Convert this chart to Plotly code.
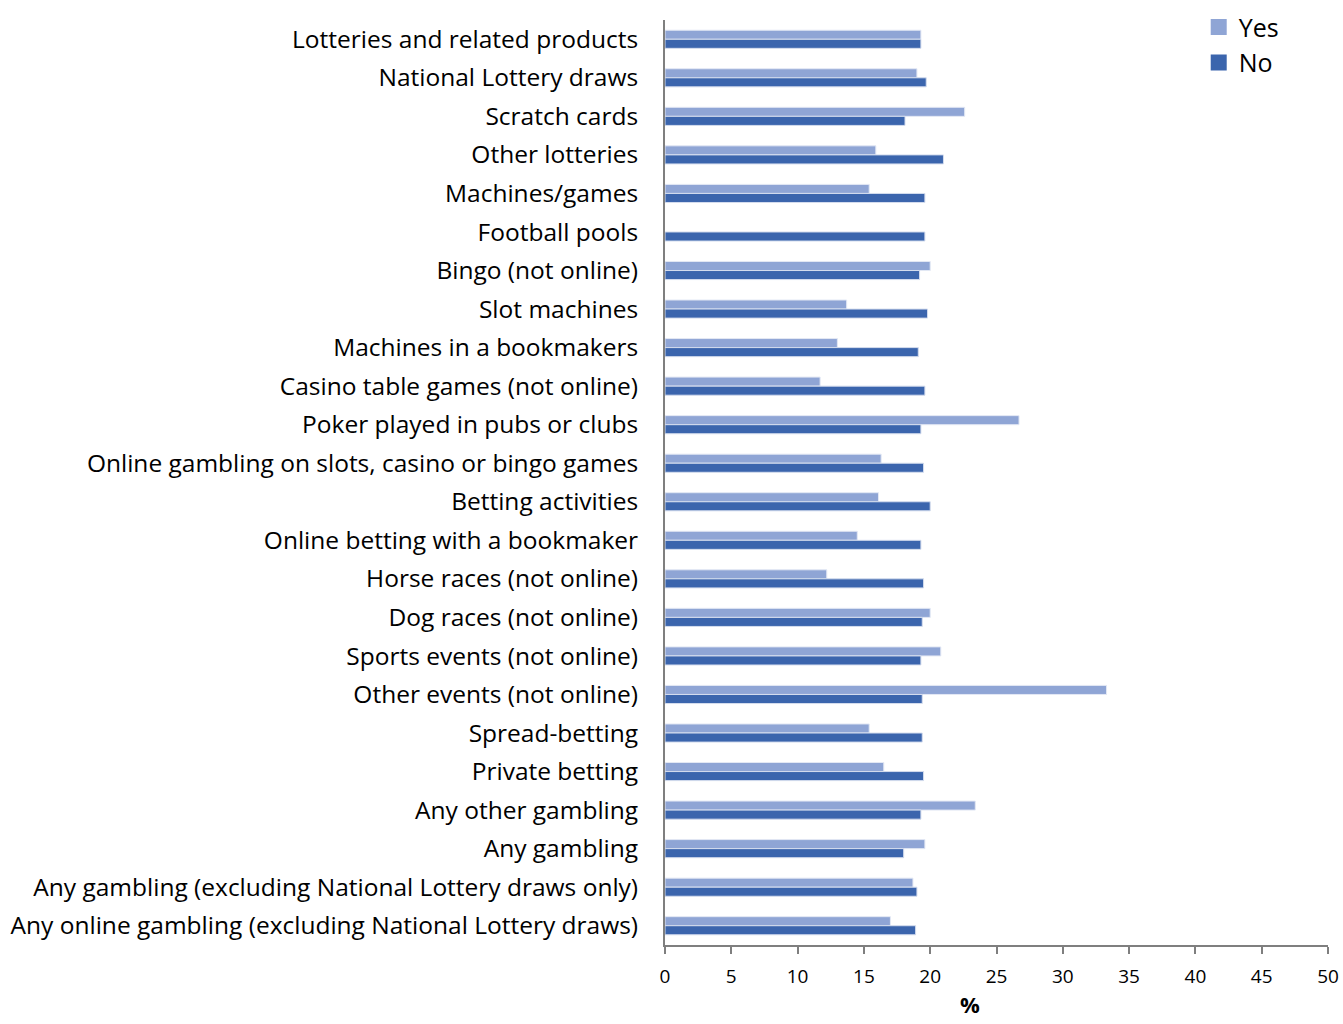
import plotly.graph_objects as go

categories = [
    "Lotteries and related products",
    "National Lottery draws",
    "Scratch cards",
    "Other lotteries",
    "Machines/games",
    "Football pools",
    "Bingo (not online)",
    "Slot machines",
    "Machines in a bookmakers",
    "Casino table games (not online)",
    "Poker played in pubs or clubs",
    "Online gambling on slots, casino or bingo games",
    "Betting activities",
    "Online betting with a bookmaker",
    "Horse races (not online)",
    "Dog races (not online)",
    "Sports events (not online)",
    "Other events (not online)",
    "Spread-betting",
    "Private betting",
    "Any other gambling",
    "Any gambling",
    "Any gambling (excluding National Lottery draws only)",
    "Any online gambling (excluding National Lottery draws)",
]

yes_values = [19.3, 19.0, 22.6, 15.9, 15.4, None, 20.0, 13.7, 13.0, 11.7, 26.7, 16.3,
              16.1, 14.5, 12.2, 20.0, 20.8, 33.3, 15.4, 16.5, 23.4, 19.6, 18.7, 17.0]
no_values = [19.3, 19.7, 18.1, 21.0, 19.6, 19.6, 19.2, 19.8, 19.1, 19.6, 19.3, 19.5,
             20.0, 19.3, 19.5, 19.4, 19.3, 19.4, 19.4, 19.5, 19.3, 18.0, 19.0, 18.9]

x_ticks = [0, 5, 10, 15, 20, 25, 30, 35, 40, 45, 50]

FONT = "'Open Sans', sans-serif"
AXIS_GREY = "#7f7f7f"
YES_COLOR = "#8FA5D5"
NO_COLOR = "#3B65AD"

fig = go.Figure()
fig.add_trace(go.Bar(
    name="Yes", y=categories, x=yes_values, orientation="h", showlegend=False,
    marker=dict(color=YES_COLOR, line=dict(color="#E3E8F4", width=1)),
))
fig.add_trace(go.Bar(
    name="No", y=categories, x=no_values, orientation="h", showlegend=False,
    marker=dict(color=NO_COLOR, line=dict(color="#D5DDEE", width=1)),
))

# Legend entries with larger square swatches
for name, color in [("Yes", YES_COLOR), ("No", NO_COLOR)]:
    fig.add_trace(go.Scatter(
        name=name, x=[None], y=[None], mode="markers",
        marker=dict(symbol="square", size=16, color=color),
        showlegend=True, hoverinfo="skip",
    ))

fig.update_layout(
    width=1343, height=1024,
    margin=dict(l=665, r=15, t=20, b=79, autoexpand=False),
    paper_bgcolor="white", plot_bgcolor="white",
    barmode="group", bargap=0.53, bargroupgap=0,
    font=dict(family=FONT, color="black"),
    legend=dict(
        x=0.805, y=1.017, xanchor="left", yanchor="top",
        font=dict(size=25, family=FONT), bgcolor="rgba(0,0,0,0)",
        itemwidth=30,
    ),
    annotations=[dict(
        text="<b>%</b>", xref="paper", yref="paper", x=0.46, y=-0.0638,
        xanchor="center", yanchor="middle", showarrow=False, borderpad=0,
        font=dict(size=22, family=FONT, color="black"),
    )],
)

fig.update_yaxes(
    autorange="reversed", automargin=False,
    showline=True, linecolor=AXIS_GREY, linewidth=2,
    ticks="", ticklabelstandoff=20,
    tickfont=dict(size=24.5, family=FONT, color="black"),
    showgrid=False, zeroline=False,
)
fig.update_xaxes(
    range=[0, 50], tickvals=x_ticks, automargin=False,
    showline=True, linecolor=AXIS_GREY, linewidth=2,
    ticks="outside", ticklen=7, tickwidth=2, tickcolor=AXIS_GREY,
    ticklabelstandoff=6,
    tickfont=dict(size=19, family=FONT, color="black"),
    showgrid=False, zeroline=False,
)

fig.write_html("out.html")
